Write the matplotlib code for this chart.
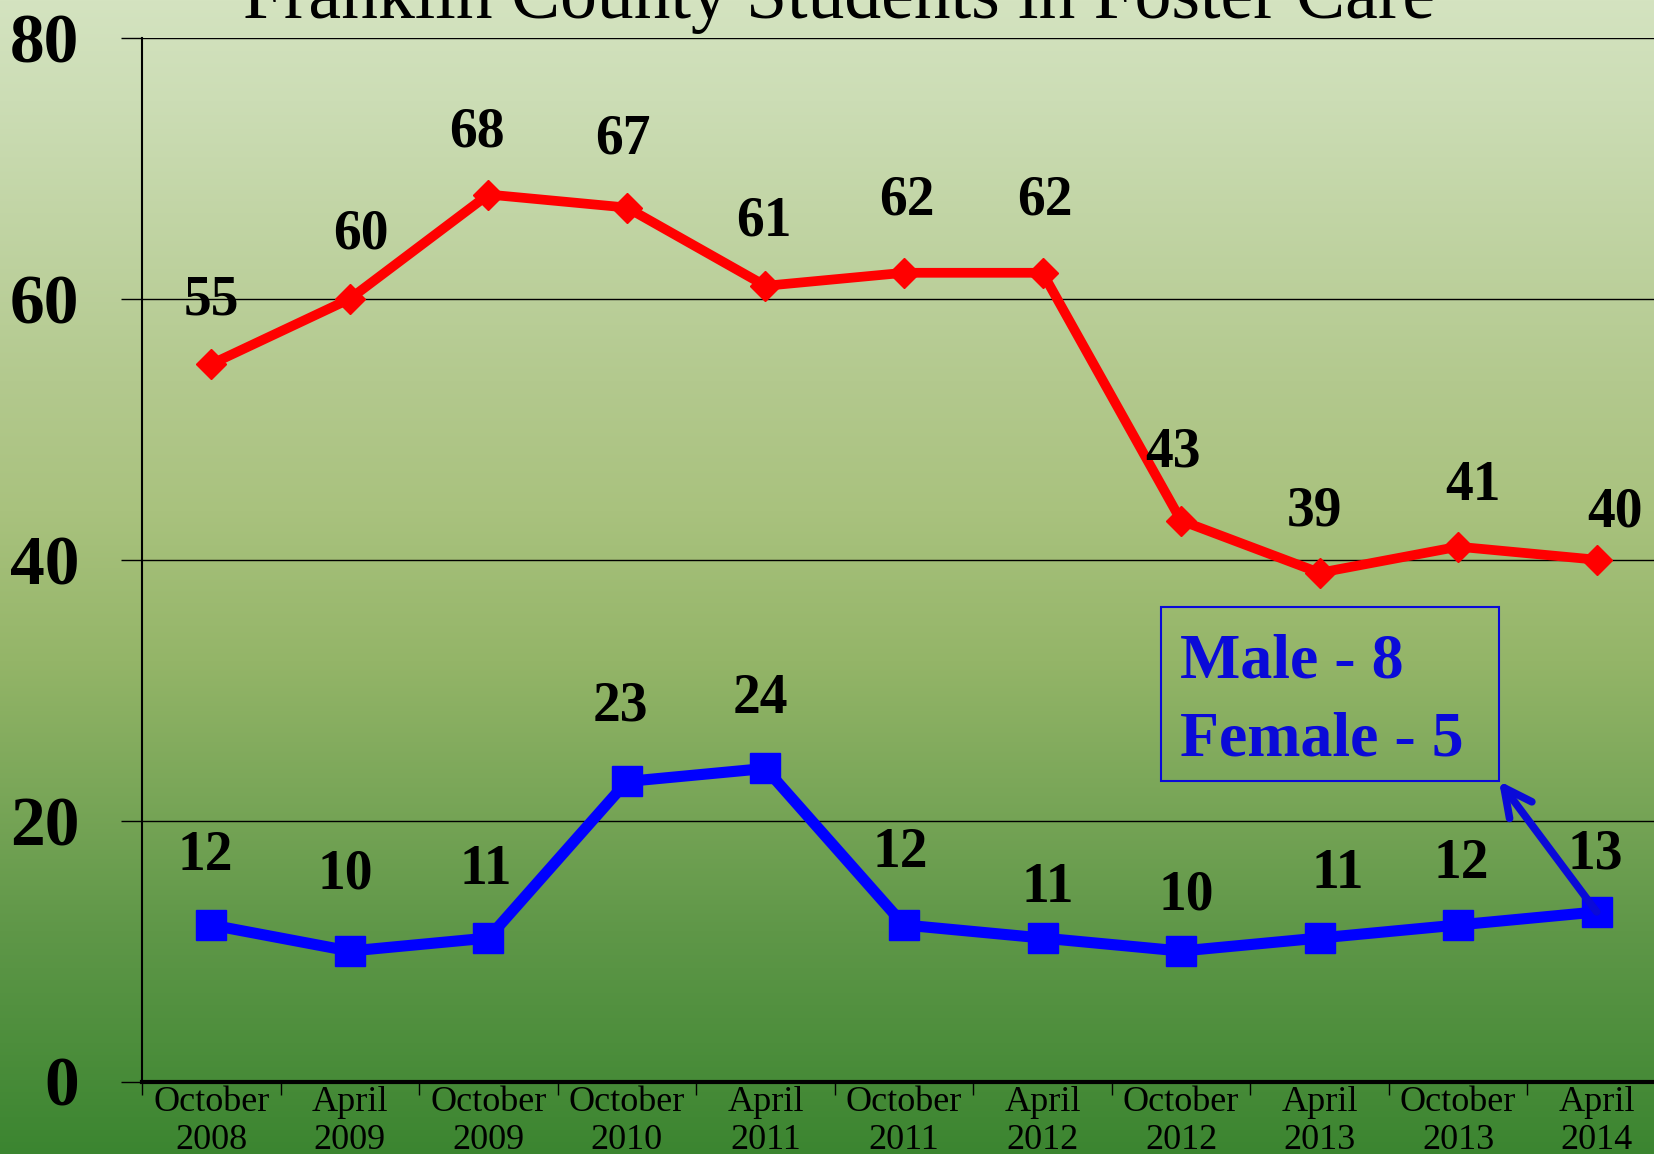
import numpy as np
import matplotlib
matplotlib.use('Agg')
import matplotlib.pyplot as plt
from matplotlib.patches import Rectangle

plt.rcParams['font.family'] = ['Liberation Serif', 'DejaVu Serif']

# chart values
periods = ['October\n2008', 'April\n2009', 'October\n2009', 'October\n2010', 'April\n2011',
           'October\n2011', 'April\n2012', 'October\n2012', 'April\n2013', 'October\n2013',
           'April\n2014']
total_students = [55, 60, 68, 67, 61, 62, 62, 43, 39, 41, 40]
second_series = [12, 10, 11, 23, 24, 12, 11, 10, 11, 12, 13]
y_ticks = [0, 20, 40, 60, 80]
callout_text = 'Male - 8\nFemale - 5'

# label nudges in points (layout only)
red_nudge = [(0, 46), (8, 46), (-8, 45), (-3, 49), (-1, 46), (2, 52), (2, 52),
             (-6, 49), (-4, 44), (11, 44), (13, 34)]
blue_nudge = [(-4, 50), (-3, 55), (-2, 49), (-5, 54), (-4, 50), (-3, 52), (4, 36),
              (4, 40), (13, 46), (2, 44), (-1, 41)]

W, H = 1654, 1154
fig = plt.figure(figsize=(W / 100, H / 100), dpi=100)

# green gradient background
bg = fig.add_axes([0, 0, 1, 1], zorder=0)
stops_y = [0, 100, 380, 510, 660, 930, 1154]
stops_c = np.array([[212, 227, 192], [204, 221, 181], [179, 201, 142], [169, 194, 126],
                    [148, 181, 104], [95, 151, 72], [59, 133, 48]]) / 255.0
yy = np.arange(H)
grad = np.stack([np.interp(yy, stops_y, stops_c[:, k]) for k in range(3)], axis=1)
bg.imshow(grad[:, None, :], aspect='auto', extent=[0, 1, 0, 1])
bg.set_axis_off()

ax = fig.add_axes([142 / W, (H - 1081.5) / H, 1524 / W, 1043.5 / H], zorder=1)
ax.patch.set_alpha(0)

x = np.arange(len(periods))
ax.plot(x, total_students, color='#ff0000', lw=7, marker='D', ms=15, zorder=3)
ax.plot(x, second_series, color='#0000ff', lw=8, marker='s', ms=21, zorder=3)

for i, v in enumerate(total_students):
    ax.annotate(str(v), (x[i], v), xytext=red_nudge[i], textcoords='offset points',
                ha='center', va='center', fontsize=40, fontweight='bold', zorder=5)
for i, v in enumerate(second_series):
    ax.annotate(str(v), (x[i], v), xytext=blue_nudge[i], textcoords='offset points',
                ha='center', va='center', fontsize=40, fontweight='bold', zorder=5)

ax.set_xlim(-0.5, len(periods) - 0.5)
ax.set_ylim(0, 80)
ax.set_yticks(y_ticks)
ax.set_yticklabels([str(t) for t in y_ticks], fontsize=50, fontweight='bold')
ax.tick_params(axis='y', direction='out', length=15, width=1, pad=30, colors='black')
ax.set_xticks(x)
ax.set_xticklabels(periods, fontsize=26, linespacing=1.2)
ax.tick_params(axis='x', which='major', length=0, pad=3)
ax.set_xticks(np.arange(-0.5, len(periods), 1.0), minor=True)
ax.tick_params(axis='x', which='minor', direction='out', length=9, width=1)

ax.grid(axis='y', color='black', lw=1)
ax.set_axisbelow(True)
ax.spines['top'].set_visible(False)
ax.spines['right'].set_visible(False)
ax.spines['left'].set_linewidth(1.5)
ax.spines['bottom'].set_linewidth(3)

fig.text(839 / W, 1 - 18 / H, 'Franklin County Students in Foster Care',
         ha='center', va='baseline', fontsize=53, zorder=6)

# callout box with arrow
box_color = '#0a0ad8'
fig.patches.append(Rectangle((1161 / W, 1 - 781 / H), 338 / W, 174 / H,
                             transform=fig.transFigure, fill=False,
                             edgecolor=box_color, lw=1.5, zorder=6))
lines = callout_text.split('\n')
fig.text(1180 / W, 1 - 678 / H, lines[0], ha='left', va='baseline', fontsize=46,
         fontweight='bold', color=box_color, zorder=6)
fig.text(1180 / W, 1 - 755 / H, lines[1], ha='left', va='baseline', fontsize=46,
         fontweight='bold', color=box_color, zorder=6)
ax.annotate('', xy=(1499 / W, 1 - 781 / H), xycoords='figure fraction',
            xytext=(x[-1], second_series[-1]), textcoords='data',
            arrowprops=dict(arrowstyle='->,head_length=0.4,head_width=0.2',
                            lw=5.5, color=box_color, shrinkA=0, shrinkB=0,
                            mutation_scale=50), zorder=6)

fig.savefig('out.png', dpi=100)
